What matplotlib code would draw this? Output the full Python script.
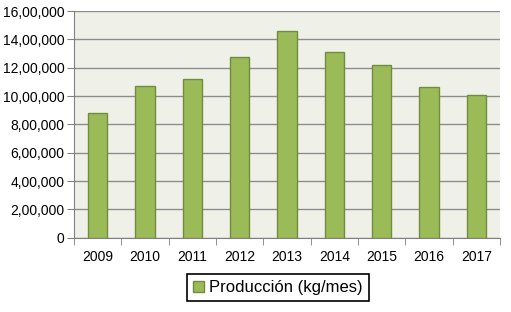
import matplotlib.pyplot as plt
import numpy as np

plt.rcParams["font.family"] = ["Liberation Sans", "DejaVu Sans"]

years = ['2009', '2010', '2011', '2012', '2013', '2014', '2015', '2016', '2017']
produccion = [882000, 1073000, 1118000, 1273000, 1459000, 1310000, 1219000, 1065000, 1007000]
y_ticks = [0, 200000, 400000, 600000, 800000, 1000000, 1200000, 1400000, 1600000]
y_labels = ['0', '2,00,000', '4,00,000', '6,00,000', '8,00,000', '10,00,000',
            '12,00,000', '14,00,000', '16,00,000']

fig = plt.figure(figsize=(5.11, 3.12), dpi=100)
ax = fig.add_axes([0.1448, 0.238, 0.8337, 0.7267])
ax.set_facecolor('#eff1e9')

x = np.arange(len(years))
ax.bar(x, produccion, width=0.41, color='#9bbb59', edgecolor='#718c3f', linewidth=1.0,
       label='Producción (kg/mes)', zorder=3)

ax.set_xlim(-0.5, len(years) - 0.5)
ax.set_ylim(0, 1600000)
ax.set_yticks(y_ticks)
ax.set_yticklabels(y_labels)
ax.yaxis.grid(True, color='#8c8c8c', linewidth=1.0, zorder=1)

# category labels centred, tick marks on boundaries
ax.set_xticks(x)
ax.set_xticklabels(years)
ax.set_xticks(np.arange(len(years) + 1) - 0.5, minor=True)
ax.tick_params(axis='x', which='major', length=0, pad=9, labelsize=10)
ax.tick_params(axis='x', which='minor', length=5, color='#808080')
ax.tick_params(axis='y', length=5, color='#808080', labelsize=10, pad=2)

for side in ['top', 'right']:
    ax.spines[side].set_visible(False)
for side in ['left', 'bottom']:
    ax.spines[side].set_color('#808080')

leg = fig.legend(loc='center', bbox_to_anchor=(0.544, 0.078), fontsize=12, fancybox=False,
                 handlelength=0.65, handleheight=0.65, handletextpad=0.3, borderpad=0.35,
                 framealpha=1)
leg.get_frame().set_edgecolor('black')
leg.get_frame().set_linewidth(1.2)

plt.savefig('out.png', dpi=100)
